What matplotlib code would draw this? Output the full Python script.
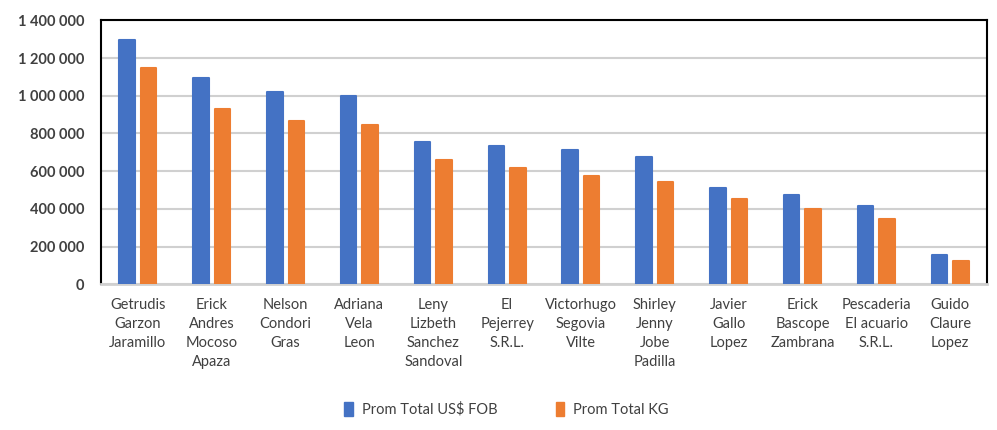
import numpy as np
import matplotlib
matplotlib.use("Agg")
import matplotlib.pyplot as plt
from matplotlib.patches import Rectangle
from matplotlib.ticker import FuncFormatter

plt.rcParams['font.family'] = ['Lato', 'DejaVu Sans']

# data
names = ["Getrudis\nGarzon\nJaramillo", "Erick\nAndres\nMocoso\nApaza", "Nelson\nCondori\nGras",
         "Adriana\nVela\nLeon", "Leny\nLizbeth\nSanchez\nSandoval", "El\nPejerrey\nS.R.L.",
         "Victorhugo\nSegovia\nVilte", "Shirley\nJenny\nJobe\nPadilla", "Javier\nGallo\nLopez",
         "Erick\nBascope\nZambrana", "Pescaderia\nEl acuario\nS.R.L.", "Guido\nClaure\nLopez"]
fob = [1295000, 1092000, 1020000, 1000000, 755000, 731000, 712000, 675000, 511000, 475000, 417000, 157000]
kg = [1145000, 928000, 864000, 845000, 657000, 617000, 572000, 544000, 454000, 400000, 346000, 121000]
series_names = ["Prom Total US$ FOB", "Prom Total KG"]

blue = "#4472C4"
orange = "#ED7D31"
txt = "#404040"

fig = plt.figure(figsize=(9.97, 4.30), dpi=100)
ax = fig.add_axes([0.1013, 0.339, 0.8887, 0.6136])

x = np.arange(len(names))
w = 0.21
ax.bar(x - 0.145, fob, w, color=blue, edgecolor=blue, linewidth=1.5, joinstyle='round', zorder=3)
ax.bar(x + 0.145, kg, w, color=orange, edgecolor=orange, linewidth=1.5, joinstyle='round', zorder=3)

ax.set_xlim(-0.5, len(names) - 0.5)
ax.set_ylim(0, 1400000)
ax.set_yticks(np.arange(0, 1400001, 200000))
ax.yaxis.set_major_formatter(FuncFormatter(lambda v, p: "{:,}".format(int(v)).replace(",", " ")))
ax.grid(axis='y', color="#d0d0d0", linewidth=1.5, zorder=0)
ax.set_axisbelow(True)

ax.set_xticks(x)
ax.set_xticklabels(names, fontsize=10.5, color=txt, linespacing=1.45)
ax.tick_params(axis='x', length=0, pad=10)
ax.tick_params(axis='y', length=0, pad=12, labelsize=10.5, labelcolor=txt)
for lab in ax.get_yticklabels():
    lab.set_fontweight('bold')

for s in ['top', 'left', 'right']:
    ax.spines[s].set_color('black')
    ax.spines[s].set_linewidth(1.5)
ax.spines['bottom'].set_color('#d0d0d0')
ax.spines['bottom'].set_linewidth(2)

handles = [Rectangle((0, 0), 1, 1, color=blue), Rectangle((0, 0), 1, 1, color=orange)]
fig.legend(handles, series_names, loc='center', bbox_to_anchor=(0.508, 0.048), ncol=2,
           frameon=False, fontsize=10.5, labelcolor=txt, handlelength=0.6, handleheight=1.1,
           columnspacing=4, handletextpad=0.6)

fig.savefig("out.png", dpi=100)
